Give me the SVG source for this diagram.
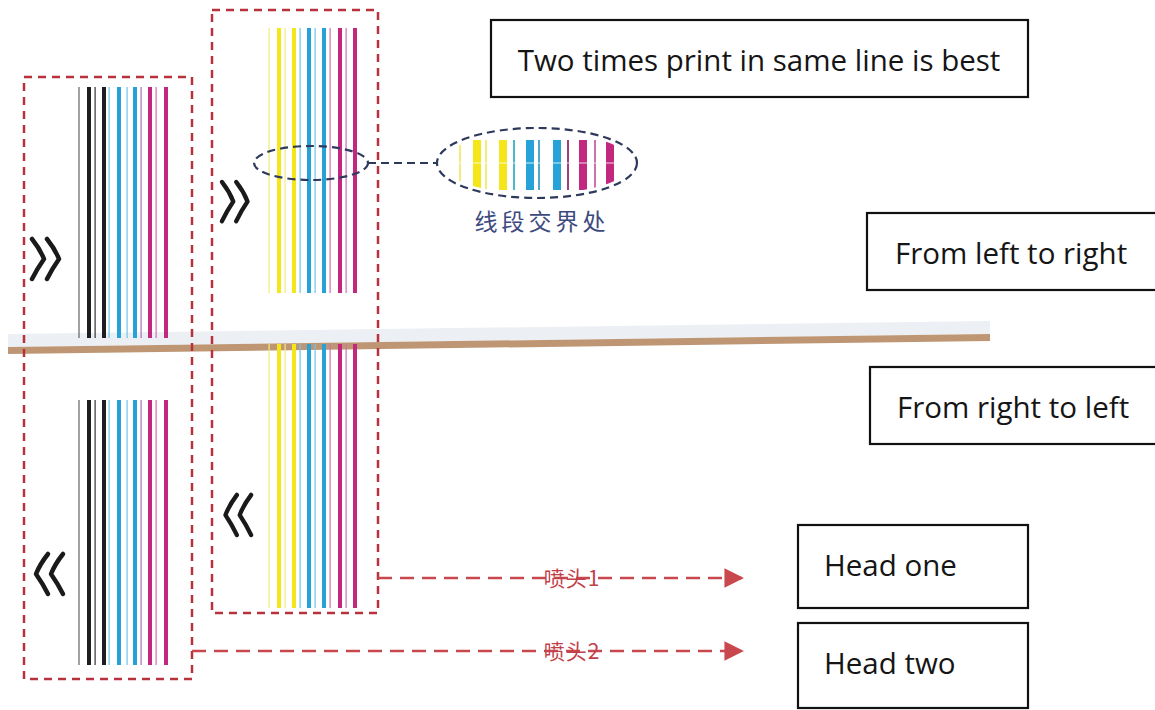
<svg xmlns="http://www.w3.org/2000/svg" width="1155" height="710" viewBox="0 0 1155 710">
<style>
.box{fill:#fff;stroke:#111;stroke-width:2.2}
.lbl{font-family:"Open Sans","Liberation Sans",sans-serif;font-size:29.5px;fill:#151515}
.frame{fill:none;stroke:#b8323e;stroke-width:2.5;stroke-dasharray:8 6}
.navy{fill:none;stroke:#2e3a5c;stroke-width:2.2;stroke-dasharray:8 5}
.arr{fill:none;stroke:#c9484e;stroke-width:2.6;stroke-dasharray:14 8}
.cn{font-family:"Noto Sans CJK SC",sans-serif;font-size:21px;letter-spacing:1px;fill:#c0404a}
.chev{fill:none;stroke:#1a1a1a;stroke-width:4.5;stroke-linecap:round;stroke-linejoin:round}
</style>
<defs>
<path id="chev" class="chev" d="M2,2 Q10,12 14,22 Q7,32 2,42 M17,2 Q25,12 29,22 Q22,32 17,42"/>
<marker id="ah" viewBox="0 0 10 10" refX="9" refY="5" markerWidth="7.5" markerHeight="7.5" orient="auto" markerUnits="strokeWidth">
<path d="M0,0 L10,5 L0,10 Z" fill="#c9484e"/>
</marker>
<clipPath id="ellClip"><ellipse cx="537" cy="163" rx="95" ry="31"/></clipPath>
</defs>

<!-- print head bar (rail) -->
<g id="rail">
<polygon points="8,334 990,321 990,334 8,347" fill="#eceff3"/>
<polygon points="8,347 990,334 990,341 8,354" fill="#bf9673"/>
</g>

<!-- head 2 (left) -->
<g id="head2">
<rect class="frame" x="24" y="77" width="168" height="602"/>
<g id="h2top">
<rect x="78.5" y="87" width="1" height="251" fill="#444"/>
<rect x="87" y="87" width="4" height="251" fill="#1e1e1e"/>
<rect x="94.5" y="87" width="1.2" height="251" fill="#333"/>
<rect x="102" y="87" width="4" height="251" fill="#1e1e1e"/>
<rect x="108.5" y="87" width="1.2" height="251" fill="#6cc6ea"/>
<rect x="117" y="87" width="4" height="251" fill="#27a2d8"/>
<rect x="126.5" y="87" width="1.2" height="251" fill="#6cc6ea"/>
<rect x="133" y="87" width="4" height="251" fill="#27a2d8"/>
<rect x="140.5" y="87" width="1.2" height="251" fill="#b070b0"/>
<rect x="148" y="87" width="4" height="251" fill="#c3287f"/>
<rect x="155.5" y="87" width="1.2" height="251" fill="#d070b0"/>
<rect x="164" y="87" width="4" height="251" fill="#c3287f"/>
</g>
<g id="h2bot">
<rect x="78.5" y="400" width="1" height="265" fill="#444"/>
<rect x="87" y="400" width="4" height="265" fill="#1e1e1e"/>
<rect x="94.5" y="400" width="1.2" height="265" fill="#333"/>
<rect x="102" y="400" width="4" height="265" fill="#1e1e1e"/>
<rect x="108.5" y="400" width="1.2" height="265" fill="#6cc6ea"/>
<rect x="117" y="400" width="4" height="265" fill="#27a2d8"/>
<rect x="126.5" y="400" width="1.2" height="265" fill="#6cc6ea"/>
<rect x="133" y="400" width="4" height="265" fill="#27a2d8"/>
<rect x="140.5" y="400" width="1.2" height="265" fill="#b070b0"/>
<rect x="148" y="400" width="4" height="265" fill="#c3287f"/>
<rect x="155.5" y="400" width="1.2" height="265" fill="#d070b0"/>
<rect x="164" y="400" width="4" height="265" fill="#c3287f"/>
</g>
<use href="#chev" transform="translate(30,237)"/>
<use href="#chev" transform="translate(65,552) scale(-1,1)"/>
</g>

<!-- head 1 (right) -->
<g id="head1">
<rect class="frame" x="212" y="10" width="166" height="603"/>
<g id="h1top">
<rect x="268.5" y="28" width="1.2" height="265" fill="#f2ec7a"/>
<rect x="277" y="28" width="4" height="265" fill="#f4e61a"/>
<rect x="284.5" y="28" width="1.2" height="265" fill="#f2ec7a"/>
<rect x="292" y="28" width="4" height="265" fill="#f4e61a"/>
<rect x="299.5" y="28" width="1.2" height="265" fill="#6cc6ea"/>
<rect x="307" y="28" width="4" height="265" fill="#27a2d8"/>
<rect x="314.5" y="28" width="1.2" height="265" fill="#6cc6ea"/>
<rect x="322" y="28" width="4" height="265" fill="#27a2d8"/>
<rect x="329.5" y="28" width="1.2" height="265" fill="#d070b0"/>
<rect x="338" y="28" width="4" height="265" fill="#c3287f"/>
<rect x="345.5" y="28" width="1.2" height="265" fill="#d070b0"/>
<rect x="353" y="28" width="4" height="265" fill="#c3287f"/>
</g>
<g id="h1bot">
<rect x="268.5" y="344" width="1.2" height="264" fill="#f2ec7a"/>
<rect x="277" y="344" width="4" height="264" fill="#f4e61a"/>
<rect x="284.5" y="344" width="1.2" height="264" fill="#f2ec7a"/>
<rect x="292" y="344" width="4" height="264" fill="#f4e61a"/>
<rect x="299.5" y="344" width="1.2" height="264" fill="#6cc6ea"/>
<rect x="307" y="344" width="4" height="264" fill="#27a2d8"/>
<rect x="314.5" y="344" width="1.2" height="264" fill="#6cc6ea"/>
<rect x="322" y="344" width="4" height="264" fill="#27a2d8"/>
<rect x="329.5" y="344" width="1.2" height="264" fill="#d070b0"/>
<rect x="338" y="344" width="4" height="264" fill="#c3287f"/>
<rect x="345.5" y="344" width="1.2" height="264" fill="#d070b0"/>
<rect x="353" y="344" width="4" height="264" fill="#c3287f"/>
</g>
<use href="#chev" transform="translate(220,180) scale(0.95,0.98)"/>
<use href="#chev" transform="translate(253,493) scale(-0.95,1)"/>
</g>

<!-- zoom detail -->
<g id="detail">
<ellipse class="navy" cx="311" cy="163" rx="57" ry="17"/>
<g clip-path="url(#ellClip)">
<rect x="459" y="140" width="2" height="50" fill="#f2ec7a"/>
<rect x="473" y="140" width="8" height="50" fill="#f4e61a"/>
<rect x="485" y="140" width="2" height="50" fill="#f2ec7a"/>
<rect x="499" y="140" width="8" height="50" fill="#f4e61a"/>
<rect x="513" y="140" width="2" height="50" fill="#4fb8c8"/>
<rect x="526" y="140" width="8" height="50" fill="#27a2d8"/>
<rect x="538" y="140" width="2" height="50" fill="#4fa8c8"/>
<rect x="553" y="140" width="8" height="50" fill="#27a2d8"/>
<rect x="567" y="140" width="2" height="50" fill="#a0407a"/>
<rect x="579" y="140" width="8" height="50" fill="#c3287f"/>
<rect x="594" y="140" width="2" height="50" fill="#d070b0"/>
<rect x="606" y="140" width="8" height="50" fill="#c3287f"/>
<rect x="450" y="162.5" width="170" height="1" fill="#fff" opacity="0.8"/>
</g>
<ellipse class="navy" cx="537" cy="163" rx="100" ry="35"/>
<text x="542" y="230" text-anchor="middle" font-family="Noto Sans CJK SC, sans-serif" font-size="23" letter-spacing="4" fill="#3d4a7e">线段交界处</text>
</g>

<!-- connectors -->
<g id="connectors">
<line class="navy" x1="368" y1="163" x2="437" y2="163"/>
<line class="arr" x1="378" y1="578" x2="742" y2="578" marker-end="url(#ah)"/>
<line class="arr" x1="192" y1="651" x2="742" y2="651" marker-end="url(#ah)"/>
<text class="cn" x="572" y="585.5" text-anchor="middle">喷头1</text>
<text class="cn" x="572" y="658.5" text-anchor="middle">喷头2</text>
</g>

<!-- text boxes -->
<g id="note">
<rect class="box" x="491" y="20" width="537" height="77"/>
<text class="lbl" x="759" y="71" text-anchor="middle">Two times print in same line is best</text>
</g>
<g id="ltr">
<rect class="box" x="867" y="213" width="300" height="77"/>
<text class="lbl" x="895" y="264">From left to right</text>
</g>
<g id="rtl">
<rect class="box" x="870" y="367" width="300" height="77"/>
<text class="lbl" x="897" y="418">From right to left</text>
</g>
<g id="headone">
<rect class="box" x="798" y="525" width="230" height="83"/>
<text class="lbl" x="824" y="576">Head one</text>
</g>
<g id="headtwo">
<rect class="box" x="798" y="623" width="230" height="85"/>
<text class="lbl" x="824" y="674">Head two</text>
</g>
</svg>
